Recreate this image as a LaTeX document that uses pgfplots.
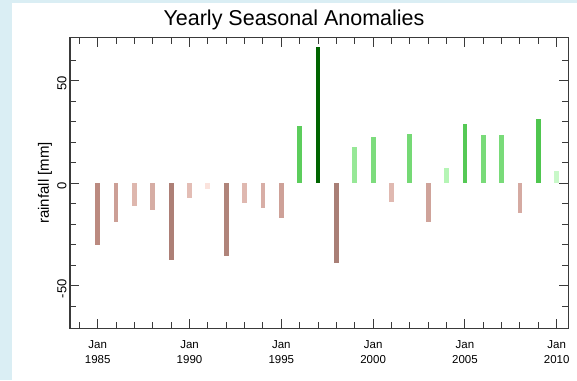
\documentclass[border=0pt]{standalone}
\usepackage{fontspec}
\setmainfont{Liberation Sans}
\usepackage{pgfplots}
\pgfplotsset{compat=1.18}
\definecolor{bgblue}{HTML}{DAEEF4}
\definecolor{axgray}{HTML}{3A3A3A}
\definecolor{cA}{HTML}{BB8A80}
\definecolor{cB}{HTML}{CC9F96}
\definecolor{cC}{HTML}{DEB7AE}
\definecolor{cD}{HTML}{D6ADA4}
\definecolor{cE}{HTML}{AD7F76}
\definecolor{cF}{HTML}{E3BDB5}
\definecolor{cG}{HTML}{FBE3DD}
\definecolor{cH}{HTML}{B0847A}
\definecolor{cI}{HTML}{DFB8B0}
\definecolor{cJ}{HTML}{D8AEA6}
\definecolor{cK}{HTML}{CEA198}
\definecolor{cL}{HTML}{5CCD5C}
\definecolor{cM}{HTML}{006400}
\definecolor{cN}{HTML}{A97F76}
\definecolor{cO}{HTML}{97E897}
\definecolor{cP}{HTML}{7DDC7D}
\definecolor{cQ}{HTML}{E0B9B1}
\definecolor{cR}{HTML}{75D975}
\definecolor{cS}{HTML}{CFA39A}
\definecolor{cT}{HTML}{B5F5B5}
\definecolor{cU}{HTML}{55C955}
\definecolor{cV}{HTML}{79DB79}
\definecolor{cW}{HTML}{D5AAA2}
\definecolor{cX}{HTML}{4FC64F}
\definecolor{cY}{HTML}{C8F8C8}
\pgfplotsset{mybar/.style={ybar, bar width=4.8pt, bar shift=0pt, draw=none, fill=#1}}
\begin{document}
\begin{tikzpicture}[x=1pt,y=1pt]
\fill[bgblue] (-70,-51.7) rectangle (507,328.3);
\fill[white] (-58,-51.7) rectangle (507,325.3);
\useasboundingbox (-70,-51.7) rectangle (507,328.3);
\node[font=\fontsize{21.5}{24}\selectfont] at (224,308.3) {Yearly Seasonal Anomalies};
\begin{axis}[
  at={(0,0)}, anchor=south west, scale only axis,
  width=498.3pt, height=290.8pt,
  xmin=1983.49, xmax=2010.63, ymin=-70.8, ymax=71.1,
  axis line style={axgray, line width=1.2pt},
  tick style={axgray, line width=1pt},
  tick align=inside,
  major tick length=9pt, minor tick length=6pt,
  xtick={1985,1990,1995,2000,2005,2010},
  minor xtick={1984,...,2010},
  xticklabels={{Jan\\1985},{Jan\\1990},{Jan\\1995},{Jan\\2000},{Jan\\2005},{Jan\\2010}},
  xticklabel style={align=center, anchor=north, yshift=-9pt, font=\fontsize{11.5}{15}\selectfont},
  ytick={-50,0,50},
  minor ytick={-60,-40,-30,-20,-10,10,20,30,40,60},
  yticklabels={-50,0,50},
  yticklabel style={rotate=90, anchor=south, xshift=-3pt, font=\fontsize{13}{15}\selectfont},
  ylabel={rainfall [mm]},
  ylabel style={at={(axis description cs:-0.0502,0.5)}, anchor=center, font=\fontsize{15}{17}\selectfont},
]
\addplot[mybar=cA] coordinates {(1985,-30.1)};
\addplot[mybar=cB] coordinates {(1986,-18.9)};
\addplot[mybar=cC] coordinates {(1987,-10.9)};
\addplot[mybar=cD] coordinates {(1988,-13.0)};
\addplot[mybar=cE] coordinates {(1989,-37.4)};
\addplot[mybar=cF] coordinates {(1990,-7.0)};
\addplot[mybar=cG] coordinates {(1991,-2.8)};
\addplot[mybar=cH] coordinates {(1992,-35.5)};
\addplot[mybar=cI] coordinates {(1993,-9.6)};
\addplot[mybar=cJ] coordinates {(1994,-12.2)};
\addplot[mybar=cK] coordinates {(1995,-17.1)};
\addplot[mybar=cL] coordinates {(1996,28.0)};
\addplot[mybar=cM] coordinates {(1997,66.3)};
\addplot[mybar=cN] coordinates {(1998,-38.7)};
\addplot[mybar=cO] coordinates {(1999,17.9)};
\addplot[mybar=cP] coordinates {(2000,22.6)};
\addplot[mybar=cQ] coordinates {(2001,-9.1)};
\addplot[mybar=cR] coordinates {(2002,24.0)};
\addplot[mybar=cS] coordinates {(2003,-18.9)};
\addplot[mybar=cT] coordinates {(2004,7.5)};
\addplot[mybar=cU] coordinates {(2005,28.8)};
\addplot[mybar=cV] coordinates {(2006,23.4)};
\addplot[mybar=cV] coordinates {(2007,23.4)};
\addplot[mybar=cW] coordinates {(2008,-14.3)};
\addplot[mybar=cX] coordinates {(2009,31.2)};
\addplot[mybar=cY] coordinates {(2010,6.1)};
\end{axis}
\end{tikzpicture}
\end{document}
